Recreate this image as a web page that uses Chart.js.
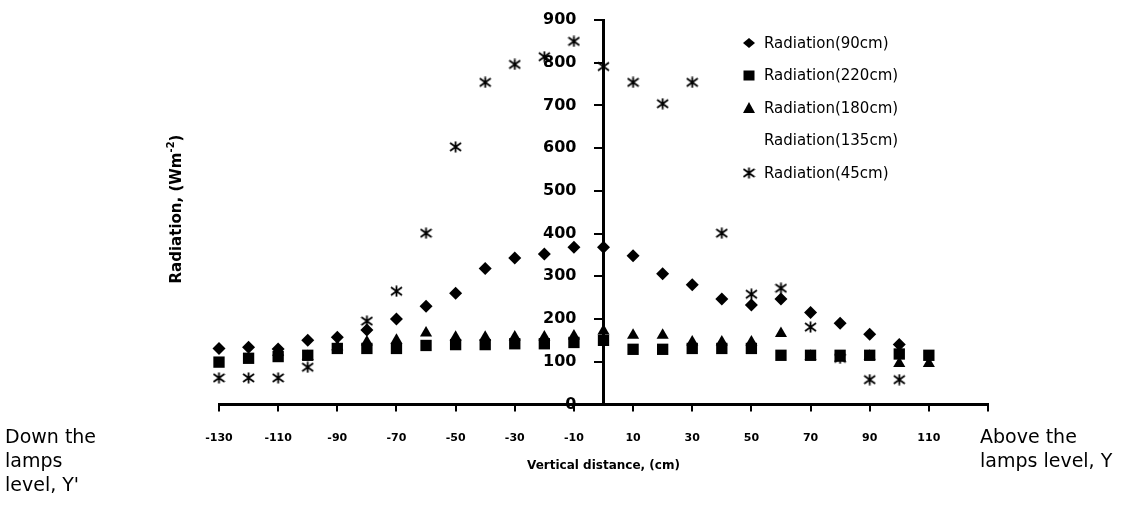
<!DOCTYPE html>
<html>
<head>
<meta charset="utf-8">
<script src="https://cdn.jsdelivr.net/npm/chart.js@4.4.1/dist/chart.umd.min.js"></script>
<style>
  html, body { margin: 0; padding: 0; background: #fff; }
  #wrap { width: 1146px; height: 512px; }
</style>
</head>
<body>
<div id="wrap"><canvas id="radiation-chart" width="1146" height="512"></canvas></div>
<script>
// vertical distance from the lamps (cm)
const DISTANCES = [-130, -120, -110, -100, -90, -80, -70, -60, -50, -40, -30, -20, -10, 0, 10, 20, 30, 40, 50, 60, 70, 80, 90, 100, 110];

// radiation readings (W m-2), one per distance
const RAD_90 = [131, 134, 130, 150, 157, 174, 200, 230, 260, 318, 343, 352, 368, 368, 348, 306, 280, 247, 233, 247, 215, 190, 164, 140, null];
const RAD_220 = [99, 108, 112, 115, 131, 131, 131, 138, 140, 140, 142, 142, 145, 150, 129, 129, 131, 131, 131, 115, 115, 115, 115, 118, 115];
const RAD_180 = [null, null, 122, 112, 135, 146, 150, 167, 157, 157, 158, 158, 160, 172, 162, 162, 146, 146, 146, 166, 113, 108, 113, 96, 96];
const RAD_135 = [];
const RAD_45 = [62, 62, 62, 87, null, 195, 265, 401, 603, 754, 796, 814, 850, 791, 754, 704, 754, 401, 258, 272, 181, 108, 58, 58, null];

const X_TICKS = [-130, -110, -90, -70, -50, -30, -10, 10, 30, 50, 70, 90, 110, 130];
const X_TICK_LABELS = ['-130', '-110', '-90', '-70', '-50', '-30', '-10', '10', '30', '50', '70', '90', '110', ''];
const Y_TICKS = [0, 100, 200, 300, 400, 500, 600, 700, 800, 900];

const FONT = "'DejaVu Sans', sans-serif";

function toPoints(values) {
  return DISTANCES.map((d, i) => ({ x: d, y: values[i] })).filter((p) => p.y !== null && p.y !== undefined);
}

// asterisk marker: an X with a vertical bar
function makeStar(w, h) {
  const c = document.createElement('canvas');
  c.width = w;
  c.height = h;
  const g = c.getContext('2d');
  g.strokeStyle = '#000';
  g.lineWidth = 1.8;
  g.beginPath();
  g.moveTo(1, 2); g.lineTo(w - 1, h - 2);
  g.moveTo(w - 1, 2); g.lineTo(1, h - 2);
  g.moveTo(w / 2, 0.5); g.lineTo(w / 2, h - 0.5);
  g.stroke();
  return c;
}
const STAR = makeStar(13, 12);

const datasets = [
  { label: 'Radiation(90cm)', data: toPoints(RAD_90), pointStyle: 'rectRot', pointRadius: 6.5 },
  { label: 'Radiation(220cm)', data: toPoints(RAD_220), pointStyle: 'rect', pointRadius: 8 },
  { label: 'Radiation(180cm)', data: toPoints(RAD_180), pointStyle: 'triangle', pointRadius: 7 },
  { label: 'Radiation(135cm)', data: RAD_135, pointStyle: false, pointRadius: 0 },
  { label: 'Radiation(45cm)', data: toPoints(RAD_45), pointStyle: STAR, pointRadius: 6 },
].map((ds) => ({
  ...ds,
  showLine: false,
  clip: false,
  backgroundColor: '#000',
  borderColor: '#000',
  borderWidth: 0,
  pointHoverRadius: ds.pointRadius,
}));

// the y axis sits at x = 0, move its labels left of the tick marks
const shiftYLabels = {
  id: 'shiftYLabels',
  beforeDraw(chart) {
    const items = chart.scales.y.getLabelItems();
    if (items._shifted) return;
    items.forEach((it) => { it.options.translation[0] -= 27; });
    items._shifted = true;
  },
};

// legend drawn inside the plot, top right
const sideLegend = {
  id: 'sideLegend',
  afterDraw(chart) {
    const ctx = chart.ctx;
    ctx.save();
    ctx.fillStyle = '#000';
    ctx.font = '15px ' + FONT;
    ctx.textBaseline = 'middle';
    chart.data.datasets.forEach((ds, i) => {
      const y = 43 + i * 32.5;
      const x = 749;
      ctx.beginPath();
      if (ds.pointStyle === 'rectRot') {
        ctx.moveTo(x, y - 5); ctx.lineTo(x + 6, y); ctx.lineTo(x, y + 5); ctx.lineTo(x - 6, y);
        ctx.closePath(); ctx.fill();
      } else if (ds.pointStyle === 'rect') {
        ctx.fillRect(x - 5.5, y - 5, 11, 10);
      } else if (ds.pointStyle === 'triangle') {
        ctx.moveTo(x, y - 6); ctx.lineTo(x + 6, y + 5); ctx.lineTo(x - 6, y + 5);
        ctx.closePath(); ctx.fill();
      } else if (ds.pointStyle instanceof HTMLCanvasElement) {
        ctx.drawImage(ds.pointStyle, x - 6.5, y - 6);
      }
      ctx.fillText(ds.label, 764, y + 1);
    });
    ctx.restore();
  },
};

// y title and the side notes
const notes = {
  id: 'notes',
  afterDraw(chart) {
    const ctx = chart.ctx;
    ctx.save();
    ctx.fillStyle = '#000';
    ctx.textBaseline = 'middle';

    // rotated y title with superscript
    ctx.translate(177, 209);
    ctx.rotate(-Math.PI / 2);
    ctx.font = 'bold 15px ' + FONT;
    const a = 'Radiation, (Wm';
    const c = ')';
    const wa = ctx.measureText(a).width;
    const wc = ctx.measureText(c).width;
    ctx.font = 'bold 10px ' + FONT;
    const b = '-2';
    const wb = ctx.measureText(b).width;
    const x0 = -(wa + wb + wc) / 2;
    ctx.font = 'bold 15px ' + FONT;
    ctx.fillText(a, x0, 0);
    ctx.font = 'bold 10px ' + FONT;
    ctx.fillText(b, x0 + wa, -6);
    ctx.font = 'bold 15px ' + FONT;
    ctx.fillText(c, x0 + wa + wb, 0);
    ctx.setTransform(1, 0, 0, 1, 0, 0);

    ctx.font = '19px ' + FONT;
    ctx.textAlign = 'left';
    ['Down the', 'lamps', "level, Y'"].forEach((t, i) => ctx.fillText(t, 5, 438 + i * 24));
    ['Above the', 'lamps level, Y'].forEach((t, i) => ctx.fillText(t, 980, 438 + i * 24));
    ctx.restore();
  },
};

new Chart(document.getElementById('radiation-chart'), {
  type: 'scatter',
  data: { datasets },
  options: {
    responsive: false,
    animation: false,
    devicePixelRatio: 1,
    layout: { padding: { left: 219, right: 158, top: 20, bottom: 35 } },
    plugins: {
      legend: { display: false },
      tooltip: { enabled: false },
    },
    scales: {
      x: {
        type: 'linear',
        position: 'bottom',
        min: -130,
        max: 130,
        afterBuildTicks: (scale) => {
          scale.ticks = X_TICKS.map((v) => ({ value: v }));
        },
        ticks: {
          color: '#000',
          font: { family: FONT, size: 11, weight: 'bold' },
          padding: 20,
          maxRotation: 0,
          autoSkip: false,
          callback: (v) => X_TICK_LABELS[X_TICKS.indexOf(v)],
        },
        grid: { drawOnChartArea: false, drawTicks: true, tickLength: 7, color: '#000', lineWidth: 2 },
        border: { display: true, color: '#000', width: 3 },
        title: {
          display: true,
          text: 'Vertical distance, (cm)',
          color: '#000',
          font: { family: FONT, size: 12, weight: 'bold' },
          padding: { top: -6, bottom: 4 },
        },
      },
      y: {
        type: 'linear',
        position: { x: 0 },
        min: 0,
        max: 900,
        afterBuildTicks: (scale) => {
          scale.ticks = Y_TICKS.map((v) => ({ value: v }));
        },
        ticks: {
          color: '#000',
          font: { family: FONT, size: 16, weight: 'bold' },
          padding: 0,
        },
        grid: { drawOnChartArea: false, drawTicks: true, tickLength: 8, color: '#000', lineWidth: 2 },
        border: { display: true, color: '#000', width: 3 },
      },
    },
  },
  plugins: [shiftYLabels, sideLegend, notes],
});
</script>
</body>
</html>
